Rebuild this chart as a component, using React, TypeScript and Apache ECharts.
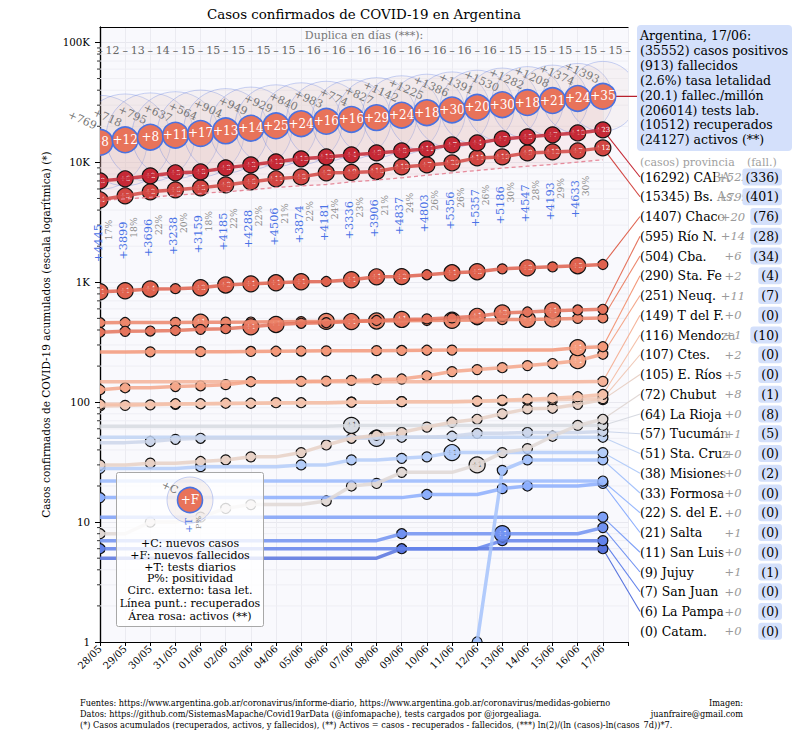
import React, { useEffect, useRef } from "react";
import * as echarts from "echarts";

const SERIF = "DejaVu Serif, serif";
const COND = "DejaVu Serif Condensed, DejaVu Serif, serif";

const FECHAS = ["28/05","29/05","30/05","31/05","01/06","02/06","03/06","04/06","05/06","06/06","07/06","08/06","09/06","10/06","11/06","12/06","13/06","14/06","15/06","16/06","17/06"];

const ARG_CASOS = [14702, 15419, 16214, 16851, 17415, 18319, 19268, 20197, 21037, 22020, 22794, 23620, 24761, 25987, 27373, 28764, 30295, 31577, 32785, 34159, 35552];
const ARG_NUEVOS = [769, 718, 795, 637, 564, 904, 949, 929, 840, 983, 774, 827, 1142, 1225, 1386, 1391, 1530, 1282, 1208, 1374, 1393];
const ARG_FALL_NUEVOS = [8, 12, 8, 11, 17, 13, 14, 25, 24, 16, 16, 29, 24, 18, 30, 20, 30, 18, 21, 24, 35];
const ARG_FALLECIDOS = [508, 520, 528, 539, 556, 569, 583, 608, 632, 648, 664, 693, 717, 735, 765, 785, 815, 833, 854, 878, 913];
const ARG_RECUPERADOS = [4788, 4958, 5116, 5323, 5507, 5683, 5896, 6180, 6370, 6540, 6883, 7131, 7440, 7808, 8184, 8556, 8950, 9297, 9613, 10058, 10512];
const DUPLICA = [12, 13, 14, 15, 15, 15, 15, 15, 16, 16, 16, 16, 16, 16, 16, 16, 15, 15, 15, 15, 15];
const TESTS = [4445, 3899, 3696, 3238, 3159, 4185, 4288, 4506, 3874, 4181, 3336, 3906, 4837, 4803, 5356, 5357, 5186, 4547, 4193, 4633];
const POSITIVIDAD = [17, 18, 22, 20, 18, 22, 22, 21, 22, 24, 23, 21, 24, 26, 26, 26, 30, 28, 29, 30];
const TESTS_TOTAL = 206014;
const POBLACION_MILLONES = 45.38;

const Y_MAX = 134600;
const DUP_Y = 86000;

// provincias (casos acumulados por día, fallecidos nuevos por día)
const CABA_C = [7010, 7290, 7720, 8180, 8330, 9000, 9530, 10100, 10700, 11110, 11550, 12000, 12470, 12960, 13990, 14540, 15700, 16320, 16960, 17610, 18660];
const CABA_F = [3, 6, 2, 5, 8, 3, 3, 12, 15, 13, 4, 9, 8, 11, 7, 4, 7, 5, 7, 10, 23];
const BSAS_C = [4870, 5260, 5680, 5900, 6130, 6490, 6880, 7290, 7570, 8180, 8250, 8400, 9170, 9530, 9900, 10900, 11110, 12000, 12230, 12470, 13210];
const BSAS_F = [4, 5, 2, 6, 5, 8, 6, 11, 8, 2, 9, 16, 13, 7, 20, 11, 19, 9, 12, 7, 12];
const CHACO_C = [834, 850, 880, 885, 900, 950, 970, 990, 1010, 1015, 1050, 1110, 1115, 1155, 1200, 1225, 1295, 1320, 1345, 1375, 1407];
const CHACO_F = [1, 1, 4, 0, 3, 2, 1, 1, 1, 0, 1, 1, 2, 0, 1, 3, 0, 3, 0, 5, 0];
const RION_C = [383, 390, 392, 396, 405, 410, 425, 445, 455, 460, 470, 480, 490, 495, 505, 520, 555, 565, 580, 588, 595];
const RION_F = [0, 0, 0, 0, 0, 0, 1, 1, 0, 0, 1, 0, 1, 0, 0, 1, 3, 0, 1, 0, 0];
const CBA_C = [460, 462, 462, 463, 464, 465, 466, 468, 470, 472, 474, 476, 478, 480, 482, 485, 488, 490, 495, 500, 504];
const CBA_F = [0, 0, 0, 0, 1, 0, 0, 0, 0, 1, 0, 2, 0, 0, 1, 0, 0, 1, 1, 0, 0];
const SFE_C = [262, 262, 263, 263, 264, 264, 265, 266, 267, 268, 268, 269, 270, 271, 272, 272, 272, 272, 272, 285, 290];
const SFE_F = [0, 0, 0, 0, 0, 0, 0, 0, 0, 0, 0, 0, 0, 0, 0, 0, 0, 0, 0, 1, 0];
const NEUQ_C = [127, 132, 132, 135, 137, 140, 148, 148, 149, 150, 152, 154, 156, 166, 180, 187, 194, 202, 210, 222, 251];
const NEUQ_F = [0, 0, 0, 0, 0, 0, 0, 0, 0, 0, 0, 0, 0, 0, 0, 0, 0, 0, 0, 1, 0];
const TDF_C = [148, 148, 148, 148, 148, 148, 148, 148, 148, 148, 148, 148, 148, 148, 148, 148, 148, 148, 148, 148, 149];
const TDF_F = [0, 0, 0, 0, 0, 0, 0, 0, 0, 0, 0, 0, 0, 0, 0, 0, 0, 0, 0, 0, 0];
const MZA_C = [96, 96, 96, 97, 97, 98, 98, 99, 99, 99, 100, 100, 101, 101, 101, 102, 104, 106, 108, 111, 116];
const MZA_F = [0, 0, 0, 0, 0, 0, 0, 0, 0, 0, 0, 0, 0, 0, 0, 0, 0, 0, 0, 0, 0];
const CTES_C = [93, 94, 95, 96, 97, 97, 98, 98, 99, 99, 100, 100, 101, 101, 101, 102, 103, 104, 105, 106, 107];
const CTES_F = [0, 0, 0, 0, 0, 0, 0, 0, 0, 0, 0, 0, 0, 0, 0, 0, 0, 0, 0, 0, 0];
const ERIOS_C = [30, 30, 31, 31, 32, 33, 35, 35, 38, 44, 50, 53, 56, 62, 68, 72, 80, 88, 89, 96, 105];
const ERIOS_F = [0, 0, 0, 0, 0, 0, 0, 0, 0, 0, 0, 0, 0, 0, 0, 0, 0, 0, 0, 0, 0];
const CHUBUT_C = [8, 8, 10, 10, 11, 13, 14, 14, 14, 15, 20, 21, 26, 26, 26, 30, 38, 41, 52, 64, 72];
const CHUBUT_F = [0, 0, 0, 0, 0, 0, 0, 0, 0, 0, 0, 0, 0, 0, 0, 1, 0, 0, 0, 0, 0];
const LRIOJA_C = [63, 63, 63, 63, 63, 63, 63, 63, 63, 63, 64, 64, 64, 64, 64, 64, 64, 64, 64, 64, 64];
const LRIOJA_F = [0, 0, 0, 0, 0, 0, 0, 0, 0, 0, 1, 0, 0, 0, 0, 0, 0, 0, 0, 0, 0];
const TUC_C = [46, 46, 47, 49, 50, 50, 50, 50, 50, 50, 50, 50, 51, 51, 52, 55, 55, 56, 56, 56, 57];
const TUC_F = [0, 0, 0, 0, 0, 0, 0, 0, 0, 0, 0, 1, 0, 0, 0, 0, 0, 0, 0, 0, 0];
const SCRUZ_C = [51, 51, 51, 51, 51, 51, 51, 51, 51, 51, 51, 51, 51, 51, 51, 51, 51, 51, 51, 51, 51];
const SCRUZ_F = [0, 0, 0, 0, 0, 0, 0, 0, 0, 0, 0, 0, 0, 0, 0, 0, 0, 0, 0, 0, 0];
const MIS_C = [28, 28, 28, 28, 29, 29, 29, 29, 30, 30, 33, 33, 34, 35, 38, 38, 38, 38, 38, 38, 38];
const MIS_F = [0, 0, 0, 0, 0, 0, 0, 0, 0, 0, 0, 0, 0, 0, 1, 0, 0, 0, 0, 0, 0];
const FSA_C = [null, null, null, null, null, null, null, null, null, null, null, null, null, null, null, 1, 27, 33, 33, 33, 33];
const FSA_F = [0, 0, 0, 0, 0, 0, 0, 0, 0, 0, 0, 0, 0, 0, 0, 0, 0, 0, 0, 0, 0];
const SDE_C = [22, 22, 22, 22, 22, 22, 22, 22, 22, 22, 22, 22, 22, 22, 22, 22, 22, 22, 22, 22, 22];
const SDE_F = [0, 0, 0, 0, 0, 0, 0, 0, 0, 0, 0, 0, 0, 0, 0, 0, 0, 0, 0, 0, 0];
const SALTA_C = [16, 16, 16, 16, 16, 16, 16, 16, 16, 16, 16, 16, 16, 17, 17, 17, 19, 20, 20, 20, 21];
const SALTA_F = [0, 0, 0, 0, 0, 0, 0, 0, 0, 0, 0, 0, 0, 0, 0, 0, 0, 0, 0, 0, 0];
const SLUIS_C = [11, 11, 11, 11, 11, 11, 11, 11, 11, 11, 11, 11, 11, 11, 11, 11, 11, 11, 11, 11, 11];
const SLUIS_F = [0, 0, 0, 0, 0, 0, 0, 0, 0, 0, 0, 0, 0, 0, 0, 0, 0, 0, 0, 0, 0];
const JUJUY_C = [7, 7, 7, 7, 7, 7, 7, 7, 7, 7, 7, 7, 8, 8, 8, 8, 8, 8, 8, 8, 9];
const JUJUY_F = [0, 0, 0, 0, 0, 0, 0, 0, 0, 0, 0, 0, 0, 0, 0, 0, 1, 0, 0, 0, 0];
const SJUAN_C = [6, 6, 6, 6, 6, 6, 6, 6, 6, 6, 6, 6, 6, 6, 6, 6, 7, 7, 7, 7, 7];
const SJUAN_F = [0, 0, 0, 0, 0, 0, 0, 0, 0, 0, 0, 0, 0, 0, 0, 0, 0, 0, 0, 0, 0];
const LPAMPA_C = [5, 5, 5, 5, 5, 5, 5, 5, 5, 5, 5, 5, 6, 6, 6, 6, 6, 6, 6, 6, 6];
const LPAMPA_F = [0, 0, 0, 0, 0, 0, 0, 0, 0, 0, 0, 0, 0, 0, 0, 0, 0, 0, 0, 0, 0];
const CATAM_C = [null, null, null, null, null, null, null, null, null, null, null, null, null, null, null, null, null, null, null, null, null];
const CATAM_F = [0, 0, 0, 0, 0, 0, 0, 0, 0, 0, 0, 0, 0, 0, 0, 0, 0, 0, 0, 0, 0];

const PROVINCIAS = ["CABA", "Bs. As.", "Chaco", "Río N.", "Cba.", "Sta. Fe", "Neuq.", "T del F.", "Mendoza", "Ctes.", "E. Ríos", "Chubut", "La Rioja", "Tucumán", "Sta. Cruz", "Misiones", "Formosa", "S. del E.", "Salta", "San Luis", "Jujuy", "San Juan", "La Pampa", "Catam."];
const PROV_CASOS_HOY = [16292, 15345, 1407, 595, 504, 290, 251, 149, 116, 107, 105, 72, 64, 57, 51, 38, 33, 22, 21, 11, 9, 7, 6, 0];
const PROV_NUEVOS_HOY = [522, 799, 20, 14, 6, 2, 11, 0, 1, 2, 5, 8, 0, 1, 0, 0, 0, 0, 1, 0, 1, 0, 0, 0];
const PROV_FALLECIDOS = [336, 401, 76, 28, 34, 4, 7, 0, 10, 0, 0, 1, 8, 5, 0, 2, 0, 0, 0, 0, 1, 0, 0, 0];
const PROV_PREVIO = [6800, 4600, 820, 380, 458, 262, 125, 148, 95, 92, 29, 7, 63, 46, 51, 27, null, 22, 15, 11, 7, 5, 5, null];

const PROV_SERIES = [CABA_C, BSAS_C, CHACO_C, RION_C, CBA_C, SFE_C, NEUQ_C, TDF_C, MZA_C, CTES_C, ERIOS_C, CHUBUT_C, LRIOJA_C, TUC_C, SCRUZ_C, MIS_C, FSA_C, SDE_C, SALTA_C, SLUIS_C, JUJUY_C, SJUAN_C, LPAMPA_C, CATAM_C];
const PROV_FALL_SERIES = [CABA_F, BSAS_F, CHACO_F, RION_F, CBA_F, SFE_F, NEUQ_F, TDF_F, MZA_F, CTES_F, ERIOS_F, CHUBUT_F, LRIOJA_F, TUC_F, SCRUZ_F, MIS_F, FSA_F, SDE_F, SALTA_F, SLUIS_F, JUJUY_F, SJUAN_F, LPAMPA_F, CATAM_F];

// --- estilo ---
const COOLWARM = [[59, 76, 192], [98, 130, 234], [141, 176, 254], [184, 208, 249], [221, 220, 220], [245, 196, 173], [244, 154, 123], [222, 96, 77], [180, 4, 38]];
function coolwarm(t: number): number[] {
  const s = Math.max(0, Math.min(1, t)) * 8;
  const i = Math.min(7, Math.floor(s));
  const f = s - i;
  const a = COOLWARM[i], b = COOLWARM[i + 1];
  return a.map((v, k) => Math.round(v + (b[k] - v) * f));
}
const N_PROV = PROVINCIAS.length;
const PROV_RGB = PROVINCIAS.map((_, i) => coolwarm(0.95 - 0.9 * (i / (N_PROV - 1))));
const rgb = (c: number[], a = 1) => `rgba(${c[0]},${c[1]},${c[2]},${a})`;

const ROW0 = 177;
const ROW_STEP = 19.75;
const LIST_X = 640;

function txt(x: number, y: number, text: string, o: any = {}) {
  const align = o.align || "left";
  const va = o.va || "middle";
  const style: any = {
    text,
    fontSize: o.size || 12.5,
    fontFamily: o.font || SERIF,
    fill: o.fill || "#000",
    align,
    textAlign: align,
    verticalAlign: va,
    textVerticalAlign: va,
  };
  if (o.italic) style.fontStyle = "italic";
  if (o.bg) style.backgroundColor = o.bg;
  if (o.padding) style.padding = o.padding;
  if (o.radius) style.borderRadius = o.radius;
  const el: any = { type: "text", x, y, style, z: o.z || 50 };
  if (o.rotation) el.rotation = o.rotation;
  return el;
}

function buildOption() {
  const minorVals: number[] = [];
  for (let k = 0; k <= 5; k++) {
    for (let m = 2; m <= 9; m++) {
      const v = m * Math.pow(10, k);
      if (v < Y_MAX) minorVals.push(v);
    }
  }

  const clipOf = (params: any) => ({
    type: "rect",
    shape: { x: params.coordSys.x, y: params.coordSys.y, width: params.coordSys.width, height: params.coordSys.height },
  });

  const series: any[] = [];

  // minor gridlines and minor ticks
  series.push({
    type: "custom",
    silent: true,
    data: minorVals.map((v) => [0, v]),
    renderItem: (params: any, api: any) => {
      const v = api.value(1);
      const p0 = api.coord([0, v]);
      const p1 = api.coord([21, v]);
      return {
        type: "group",
        children: [
          { type: "line", shape: { x1: p0[0], y1: p0[1], x2: p1[0], y2: p1[1] }, style: { stroke: "#eeeef4", lineWidth: 1 } },
          { type: "line", shape: { x1: p0[0] - 3, y1: p0[1], x2: p0[0], y2: p0[1] }, style: { stroke: "#000", lineWidth: 0.8 } },
        ],
      };
    },
  });

  // pink area (activos)
  series.push({
    type: "custom",
    silent: true,
    data: [[0, ARG_CASOS[0]]],
    renderItem: (params: any, api: any) => {
      const top = ARG_CASOS.map((c, i) => api.coord([i, c]));
      const bot = ARG_RECUPERADOS.map((r, i) => api.coord([i, r])).reverse();
      return { type: "polygon", shape: { points: [...top, ...bot] }, style: { fill: "rgba(238,165,175,0.16)" } };
    },
  });

  // outer circles (tasa letalidad)
  series.push({
    type: "custom",
    silent: true,
    data: ARG_CASOS.map((c, i) => [i, c, (ARG_FALLECIDOS[i] / c) * 100]),
    renderItem: (params: any, api: any) => {
      const p = api.coord([api.value(0), api.value(1)]);
      const r = api.value(2) * 13.6;
      return {
        type: "group",
        clipPath: clipOf(params),
        children: [
          { type: "circle", shape: { cx: p[0], cy: p[1], r }, style: { fill: "rgba(222,196,186,0.13)", stroke: "rgba(95,125,225,0.33)", lineWidth: 1 } },
        ],
      };
    },
  });

  // recuperados
  series.push({
    type: "line",
    silent: true,
    data: ARG_RECUPERADOS.map((v, i) => [i, v]),
    showSymbol: false,
    symbol: "none",
    lineStyle: { color: "#e68a9b", width: 1.3, type: [4, 3] },
  });

  // province lines (blue first, red on top)
  for (let pi = N_PROV - 1; pi >= 0; pi--) {
    series.push({
      type: "line",
      silent: true,
      data: PROV_SERIES[pi].map((v, i) => [i, v]),
      showSymbol: false,
      symbol: "none",
      connectNulls: false,
      lineStyle: { color: rgb(PROV_RGB[pi]), width: 3.5, opacity: 0.85 },
    });
  }

  // connectors to list
  const connData: any[] = [];
  PROV_SERIES.forEach((arr, pi) => {
    const last = arr[arr.length - 1];
    if (last != null) connData.push([arr.length - 1, last, ROW0 + pi * ROW_STEP, pi]);
  });
  series.push({
    type: "custom",
    silent: true,
    clip: false,
    data: connData,
    renderItem: (params: any, api: any) => {
      const p = api.coord([api.value(0), api.value(1)]);
      const pi = api.value(3);
      return {
        type: "line",
        shape: { x1: p[0], y1: p[1], x2: LIST_X, y2: api.value(2) },
        style: { stroke: rgb(PROV_RGB[pi]), lineWidth: 1.1 },
      };
    },
  });
  series.push({
    type: "custom",
    silent: true,
    clip: false,
    data: [[ARG_CASOS.length - 1, ARG_CASOS[ARG_CASOS.length - 1]]],
    renderItem: (params: any, api: any) => {
      const p = api.coord([api.value(0), api.value(1)]);
      return { type: "line", shape: { x1: p[0], y1: p[1], x2: 637, y2: p[1] }, style: { stroke: "#b8202c", lineWidth: 1.3 } };
    },
  });

  // province markers
  const mk: any[] = [];
  for (let pi = N_PROV - 1; pi >= 0; pi--) {
    const arr = PROV_SERIES[pi];
    const ff = PROV_FALL_SERIES[pi];
    arr.forEach((v, i) => {
      if (v == null) return;
      const prev = i === 0 ? PROV_PREVIO[pi] : arr[i - 1];
      const f = ff[i];
      if (i === arr.length - 1 || f > 0 || prev !== v) mk.push([i, v, f, pi]);
    });
  }
  series.push({
    type: "custom",
    silent: true,
    data: mk,
    renderItem: (params: any, api: any) => {
      const p = api.coord([api.value(0), api.value(1)]);
      const f = api.value(2);
      const pi = api.value(3);
      const c = PROV_RGB[pi];
      const lum = 0.299 * c[0] + 0.587 * c[1] + 0.114 * c[2];
      const r = f > 0 ? 8 : 5;
      const children: any[] = [
        { type: "circle", shape: { cx: p[0], cy: p[1], r }, style: { fill: rgb(c), stroke: "#111", lineWidth: 1.2 } },
      ];
      if (f > 0) {
        children.push({
          type: "text",
          x: p[0],
          y: p[1],
          style: { text: "+" + f, fill: lum > 190 ? "#444" : "#fff", fontSize: 7, fontFamily: SERIF, align: "center", textAlign: "center", verticalAlign: "middle", textVerticalAlign: "middle" },
        });
      }
      return { type: "group", clipPath: clipOf(params), children };
    },
  });

  // Argentina markers
  series.push({
    type: "custom",
    silent: true,
    data: ARG_CASOS.map((c, i) => [i, c, ARG_FALL_NUEVOS[i]]),
    renderItem: (params: any, api: any) => {
      const p = api.coord([api.value(0), api.value(1)]);
      return {
        type: "group",
        clipPath: clipOf(params),
        children: [
          { type: "circle", shape: { cx: p[0], cy: p[1], r: 12.8 }, style: { fill: "#e8735a", stroke: "#4a72e0", lineWidth: 1.6 } },
          {
            type: "text",
            x: p[0],
            y: p[1],
            style: { text: "+" + api.value(2), fill: "#fff", fontSize: 12, fontFamily: SERIF, align: "center", textAlign: "center", verticalAlign: "middle", textVerticalAlign: "middle" },
          },
        ],
      };
    },
  });

  // +C labels
  series.push({
    type: "custom",
    silent: true,
    clip: false,
    data: ARG_CASOS.map((c, i) => [i, c, ARG_NUEVOS[i]]),
    renderItem: (params: any, api: any) => {
      const p = api.coord([api.value(0), api.value(1)]);
      return {
        type: "text",
        x: p[0] - 4,
        y: p[1] - 16,
        rotation: -0.42,
        style: { text: "+" + api.value(2), fill: "#777", fontSize: 11, fontFamily: SERIF, align: "right", textAlign: "right", verticalAlign: "middle", textVerticalAlign: "middle" },
      };
    },
  });

  // +T and P% labels
  series.push({
    type: "custom",
    silent: true,
    clip: false,
    data: TESTS.map((t, i) => [i, ARG_CASOS[i] / 10, t, POSITIVIDAD[i]]),
    renderItem: (params: any, api: any) => {
      const p = api.coord([api.value(0), api.value(1)]);
      return {
        type: "group",
        children: [
          {
            type: "text",
            x: p[0] - 2,
            y: p[1],
            rotation: Math.PI / 2,
            style: { text: "+" + api.value(2), fill: "#4a72e6", fontSize: 11.3, fontFamily: SERIF, align: "left", textAlign: "left", verticalAlign: "middle", textVerticalAlign: "middle" },
          },
          {
            type: "text",
            x: p[0] + 8,
            y: p[1] - 22,
            rotation: Math.PI / 2,
            style: { text: api.value(3) + "%", fill: "#8a8a8a", fontSize: 9.2, fontFamily: SERIF, align: "left", textAlign: "left", verticalAlign: "middle", textVerticalAlign: "middle" },
          },
        ],
      };
    },
  });

  // duplica row
  series.push({
    type: "custom",
    silent: true,
    clip: false,
    data: DUPLICA.map((d, i) => [i, DUP_Y, d]),
    renderItem: (params: any, api: any) => {
      const i = api.value(0);
      const pn = api.coord([i + 0.5, DUP_Y]);
      const pd = api.coord([i, DUP_Y]);
      const st = { fill: "#666", fontSize: 11, fontFamily: SERIF, align: "center", textAlign: "center", verticalAlign: "middle", textVerticalAlign: "middle" };
      const children: any[] = [
        { type: "text", x: pn[0], y: pn[1], style: { ...st, text: String(api.value(2)) } },
        { type: "text", x: pd[0], y: pd[1], style: { ...st, text: "–" } },
      ];
      if (i === DUPLICA.length - 1) {
        const pe = api.coord([i + 1, DUP_Y]);
        children.push({ type: "text", x: pe[0], y: pe[1], style: { ...st, text: "–" } });
      }
      return { type: "group", children };
    },
  });

  // ---- graphic ----
  const g: any[] = [];
  g.push(txt(364, 14, "Casos confirmados de COVID-19 en Argentina", { size: 13.4, align: "center" }));
  g.push(txt(364, 35, "Duplica en días (***):", { size: 11, align: "center", fill: "#777" }));

  // info box
  const nC = ARG_CASOS.length - 1;
  const casos = ARG_CASOS[nC];
  const fall = ARG_FALLECIDOS[nC];
  const rec = ARG_RECUPERADOS[nC];
  g.push({ type: "rect", shape: { x: 637, y: 25, width: 155, height: 126, r: 4 }, style: { fill: "#d4e0fb" }, z: 40 });
  const info = [
    `Argentina, ${FECHAS[nC]}:`,
    `(${casos}) casos positivos`,
    `(${fall}) fallecidos`,
    `(${((fall / casos) * 100).toFixed(1)}%) tasa letalidad`,
    `(${(fall / POBLACION_MILLONES).toFixed(1)}) fallec./millón`,
    `(${TESTS_TOTAL}) tests lab.`,
    `(${rec}) recuperados`,
    `(${casos - rec - fall}) activos (**)`,
  ];
  info.forEach((t, i) => g.push(txt(640, 35.5 + i * 14.9, t, { size: 12.5 })));

  // province list
  g.push(txt(LIST_X, 162.5, "(casos) provincia", { size: 11, fill: "#a0a0a0" }));
  g.push(txt(747, 162.5, "(fall.)", { size: 11, fill: "#a0a0a0" }));
  PROVINCIAS.forEach((name, i) => {
    const y = ROW0 + i * ROW_STEP;
    g.push(txt(LIST_X, y, `(${PROV_CASOS_HOY[i]}) ${name}`, { size: 12.5 }));
    g.push(txt(733, y, "+" + PROV_NUEVOS_HOY[i], { size: 11.5, align: "center", italic: true, fill: "#9a9a9a", bg: "rgba(255,255,255,0.6)", padding: [1, 2, 1, 2], z: 51 }));
    g.push(txt(782, y, `(${PROV_FALLECIDOS[i]})`, { size: 12.5, align: "right", bg: "#d4e0fb", padding: [2, 3, 2, 3], radius: 3, z: 52 }));
  });

  // legend box
  const lz = 80;
  g.push({ type: "rect", shape: { x: 116.5, y: 472.5, width: 147, height: 154, r: 2 }, style: { fill: "rgba(255,255,255,0.82)", stroke: "#a8a8a8", lineWidth: 1 }, z: lz });
  g.push({ type: "circle", shape: { cx: 190, cy: 500, r: 23 }, style: { fill: "rgba(222,196,186,0.2)", stroke: "rgba(95,125,225,0.35)", lineWidth: 1 }, z: lz + 1 });
  g.push({ type: "circle", shape: { cx: 190, cy: 500, r: 12.5 }, style: { fill: "#e8735a", stroke: "#4a72e0", lineWidth: 1.6 }, z: lz + 2 });
  g.push(txt(190, 500, "+F", { size: 12, align: "center", fill: "#fff", z: lz + 3 }));
  g.push(txt(170, 487, "+C", { size: 10.5, align: "center", fill: "#777", rotation: -0.42, z: lz + 3 }));
  g.push(txt(188, 533, "+T", { size: 10, align: "left", fill: "#4a72e6", rotation: Math.PI / 2, z: lz + 3 }));
  g.push(txt(198, 529, "P%", { size: 8, align: "left", fill: "#8a8a8a", rotation: Math.PI / 2, z: lz + 3 }));
  const leg = ["+C: nuevos casos", "+F: nuevos fallecidos", "+T: tests diarios", "P%: positividad", "Circ. externo: tasa let.", "Línea punt.: recuperados", "Área rosa: activos (**)"];
  const legY = [543, 555, 567, 578, 590, 603, 616];
  leg.forEach((t, i) => g.push(txt(190, legY[i], t, { size: 11, align: "center", z: lz + 3 })));

  // footnotes
  g.push(txt(80, 703, "Fuentes: https://www.argentina.gob.ar/coronavirus/informe-diario, https://www.argentina.gob.ar/coronavirus/medidas-gobierno", { size: 9.1, font: COND }));
  g.push(txt(80, 714, "Datos: https://github.com/SistemasMapache/Covid19arData (@infomapache), tests cargados por @jorgealiaga.", { size: 9.1, font: COND }));
  g.push(txt(80, 725, "(*) Casos acumulados (recuperados, activos, y fallecidos), (**) Activos = casos - recuperados - fallecidos, (***) ln(2)/(ln (casos)-ln(casos_7d))*7.", { size: 9.1, font: COND }));
  g.push(txt(743, 703, "Imagen:", { size: 9.1, font: COND, align: "right" }));
  g.push(txt(743, 714, "juanfraire@gmail.com", { size: 9.1, font: COND, align: "right" }));

  return {
    animation: false,
    backgroundColor: "#ffffff",
    grid: { left: 100, right: 168, top: 27, bottom: 88, show: true, backgroundColor: "#f9f9fd", borderWidth: 0, containLabel: false },
    xAxis: [
      {
        type: "value",
        min: 0,
        max: 21,
        interval: 1,
        axisLine: { show: true, onZero: false, lineStyle: { color: "#000", width: 1.2 } },
        axisTick: { show: true, length: 4, lineStyle: { color: "#000" } },
        axisLabel: {
          formatter: (v: number) => FECHAS[Math.round(v)] ?? "",
          rotate: 45,
          fontSize: 10,
          color: "#000",
          fontFamily: SERIF,
          margin: 5,
          showMaxLabel: true,
        },
        splitLine: { show: true, lineStyle: { color: "#ebebf1", width: 1 } },
      },
      {
        type: "value",
        position: "top",
        min: 0,
        max: 21,
        axisLine: { show: true, onZero: false, lineStyle: { color: "#000", width: 1.2 } },
        axisTick: { show: false },
        axisLabel: { show: false },
        splitLine: { show: false },
      },
    ],
    yAxis: [
      {
        type: "log",
        logBase: 10,
        min: 1,
        max: Y_MAX,
        name: "Casos confirmados de COVID-19 acumulados (escala logarítmica) (*)",
        nameLocation: "middle",
        nameGap: 42,
        nameRotate: 90,
        nameTextStyle: { fontFamily: SERIF, fontSize: 10.5, color: "#000" },
        axisLine: { show: true, lineStyle: { color: "#000", width: 1.2 } },
        axisTick: { show: true, length: 5, lineStyle: { color: "#000" } },
        axisLabel: {
          fontFamily: SERIF,
          fontSize: 10.3,
          color: "#000",
          margin: 10,
          showMaxLabel: false,
          formatter: (v: number) => {
            const r = Math.round(v);
            const l = Math.log10(r);
            if (Math.abs(l - Math.round(l)) > 1e-6) return "";
            return r >= 1000 ? r / 1000 + "K" : String(r);
          },
        },
        splitLine: { show: true, lineStyle: { color: "#e8e8ef", width: 1 } },
      },
      {
        type: "value",
        position: "right",
        min: 0,
        max: 1,
        axisLine: { show: true, lineStyle: { color: "#000", width: 1.2 } },
        axisTick: { show: false },
        axisLabel: { show: false },
        splitLine: { show: false },
      },
    ],
    series,
    graphic: g,
  };
}

export default function App() {
  const ref = useRef<HTMLDivElement>(null);
  useEffect(() => {
    if (!ref.current) return;
    const chart = echarts.init(ref.current, null, { renderer: "svg" });
    chart.setOption(buildOption() as any);
    return () => chart.dispose();
  }, []);
  return <div ref={ref} style={{ position: "fixed", left: 0, top: 0, width: 796, height: 730, background: "#fff" }} />;
}
